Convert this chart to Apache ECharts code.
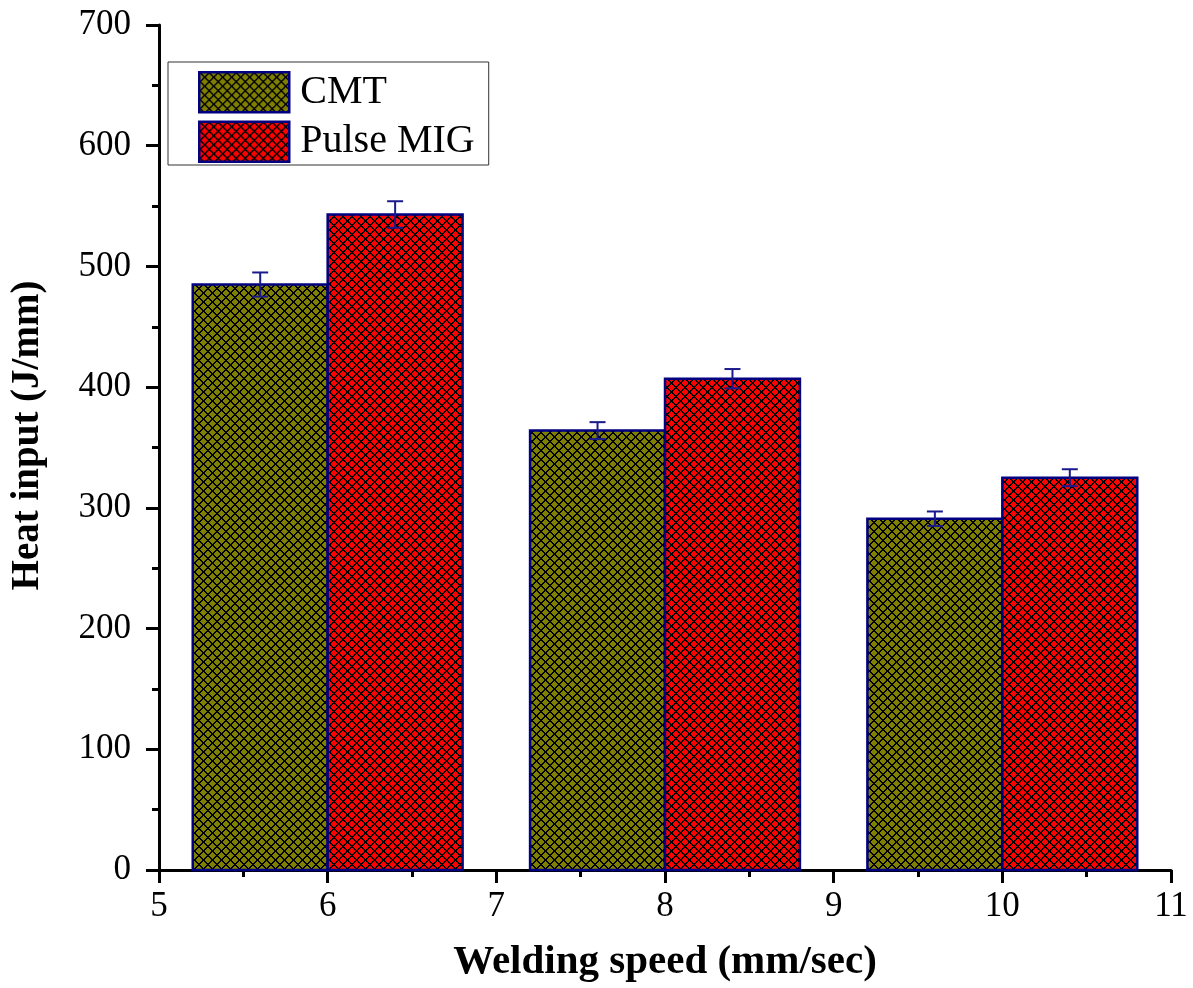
<!DOCTYPE html>
<html>
<head>
<meta charset="utf-8">
<script src="https://cdn.jsdelivr.net/npm/echarts@6/dist/echarts.min.js"></script>
<style>
html, body { margin: 0; padding: 0; background: #fff; }
#chart { width: 1193px; height: 988px; }
</style>
</head>
<body>
<div id="chart"></div>
<script>
// data
var speeds = [6, 8, 10];
var cmtHeat = [485, 364, 291];
var cmtErr = [10, 7, 6];
var pulseHeat = [543, 407, 325];
var pulseErr = [11, 8, 7];
var barSpan = 0.8;

//crosshatch fill, drawn pixel by pixel so the lines stay crisp
function hatch(base) {
    var c = document.createElement('canvas');
    var s = 9;
    c.width = s;
    c.height = s;
    var ctx = c.getContext('2d');
    ctx.fillStyle = base;
    ctx.fillRect(0, 0, s, s);
    ctx.fillStyle = '#000';
    for (var i = 0; i < s; i++) {
        for (var j = 0; j < s; j++) {
            var a = ((i - j) % s + s) % s;
            var b = (i + j) % s;
            if (a < 2 || b < 2) {
                ctx.fillRect(i, j, 1, 1);
            }
        }
    }
    return { image: c, repeat: 'repeat' };
}
var cmtFill = hatch('#808000');
var pulseFill = hatch('#ff0000');

var chart = echarts.init(document.getElementById('chart'));

function barRender(offset, fill) {
    return function (params, api) {
        var x = api.value(0);
        var y = api.value(1);
        var p0 = api.coord([x + offset, y]);
        var p1 = api.coord([x + offset + barSpan, 0]);
        return {
            type: 'rect',
            shape: { x: p0[0], y: p0[1], width: p1[0] - p0[0], height: p1[1] - p0[1] },
            style: { fill: fill, stroke: '#000080', lineWidth: 2.5 }
        };
    };
}

function errRender(offset) {
    return function (params, api) {
        var x = api.value(0) + offset + barSpan / 2;
        var y = api.value(1);
        var e = api.value(2);
        var hi = api.coord([x, y + e]);
        var lo = api.coord([x, y - e]);
        var w = 8;
        var st = { stroke: '#1a1a8c', lineWidth: 2, fill: null };
        return {
            type: 'group',
            children: [
                { type: 'line', shape: { x1: hi[0], y1: hi[1], x2: lo[0], y2: lo[1] }, style: st },
                { type: 'line', shape: { x1: hi[0] - w, y1: hi[1], x2: hi[0] + w, y2: hi[1] }, style: st },
                { type: 'line', shape: { x1: lo[0] - w, y1: lo[1], x2: lo[0] + w, y2: lo[1] }, style: st }
            ]
        };
    };
}

function zip(a, b, c) {
    var out = [];
    for (var i = 0; i < a.length; i++) {
        out.push(c ? [a[i], b[i], c[i]] : [a[i], b[i]]);
    }
    return out;
}

var axisFont = 'Liberation Serif';

var option = {
    animation: false,
    grid: { left: 159, right: 22, top: 25, bottom: 116 },
    legend: {
        orient: 'vertical',
        left: 168,
        top: 62,
        padding: [9, 14, 2, 30],
        itemWidth: 90,
        itemHeight: 40,
        itemGap: 7,
        borderColor: '#333',
        borderWidth: 1,
        icon: 'rect',
        textStyle: { fontFamily: axisFont, fontSize: 40, color: '#000', padding: [0, 0, 0, 6] },
        data: [
            { name: 'CMT', itemStyle: { color: cmtFill, borderColor: '#000080', borderWidth: 2.5 } },
            { name: 'Pulse MIG', itemStyle: { color: pulseFill, borderColor: '#000080', borderWidth: 2.5 } }
        ]
    },
    xAxis: {
        type: 'value',
        min: 5,
        max: 11,
        interval: 1,
        name: 'Welding speed (mm/sec)',
        nameLocation: 'middle',
        nameGap: 72,
        nameTextStyle: { fontFamily: axisFont, fontSize: 41, fontWeight: 'bold', color: '#000' },
        splitLine: { show: false },
        axisLine: { lineStyle: { color: '#000', width: 3 } },
        axisTick: { inside: false, length: 13, lineStyle: { color: '#000', width: 3 } },
        minorTick: { show: true, splitNumber: 2, length: 7, lineStyle: { color: '#000', width: 3 } },
        axisLabel: { fontFamily: axisFont, fontSize: 35, color: '#000', margin: 19 }
    },
    yAxis: {
        type: 'value',
        min: 0,
        max: 700,
        interval: 100,
        name: 'Heat input (J/mm)',
        nameLocation: 'middle',
        nameGap: 112,
        nameTextStyle: { fontFamily: axisFont, fontSize: 39, fontWeight: 'bold', color: '#000', padding: [0, 0, 0, 24] },
        splitLine: { show: false },
        axisLine: { show: true, lineStyle: { color: '#000', width: 3 } },
        axisTick: { show: true, inside: false, length: 13, lineStyle: { color: '#000', width: 3 } },
        minorTick: { show: true, splitNumber: 2, length: 7, lineStyle: { color: '#000', width: 3 } },
        axisLabel: { fontFamily: axisFont, fontSize: 35, color: '#000', margin: 28 }
    },
    series: [
        {
            name: 'CMT',
            type: 'custom',
            renderItem: barRender(-barSpan, cmtFill),
            itemStyle: { color: cmtFill },
            data: zip(speeds, cmtHeat),
            z: 2
        },
        {
            name: 'Pulse MIG',
            type: 'custom',
            renderItem: barRender(0, pulseFill),
            itemStyle: { color: pulseFill },
            data: zip(speeds, pulseHeat),
            z: 2
        },
        {
            name: 'CMT error',
            type: 'custom',
            renderItem: errRender(-barSpan),
            data: zip(speeds, cmtHeat, cmtErr),
            z: 3
        },
        {
            name: 'Pulse MIG error',
            type: 'custom',
            renderItem: errRender(0),
            data: zip(speeds, pulseHeat, pulseErr),
            z: 3
        }
    ]
};

chart.setOption(option);
</script>
</body>
</html>
